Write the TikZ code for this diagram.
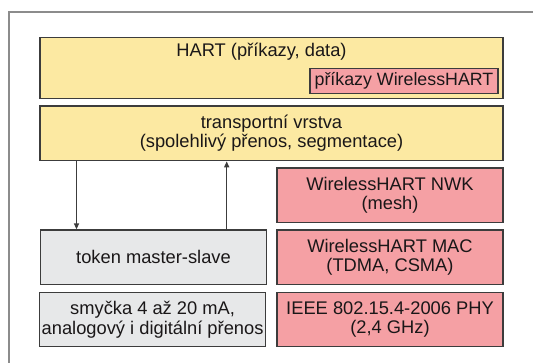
\documentclass[tikz,border=0pt]{standalone}
\usepackage{fontspec}
\setmainfont{Liberation Sans}
\usetikzlibrary{arrows.meta}
\definecolor{yel}{HTML}{FCE9A2}
\definecolor{pnk}{HTML}{F5A0A4}
\definecolor{gry}{HTML}{E7E8E9}
\definecolor{edge}{HTML}{3C3C3C}
\definecolor{txt}{HTML}{1A1718}
\definecolor{frm}{HTML}{8C8C8C}
\begin{document}
\begin{tikzpicture}[x=1pt,y=-1pt,
  box/.style={draw=edge,line width=1.4pt,inner sep=0pt,align=center,text=txt,
    font=\fontsize{18.3}{19.5}\selectfont},
  arr/.style={draw=edge,line width=1.4pt,-{Triangle[length=6pt,width=5pt]}}]
\useasboundingbox (0,0) rectangle (533,363);
\draw[frm,line width=1.4pt] (9,363) -- (9,12) -- (533,12);
% yellow boxes
\node[box,fill=yel,minimum width=463pt,minimum height=60.8pt] (hart) at (271.5,67.9) {};
\node[text=txt,font=\fontsize{18.3}{19.5}\selectfont,inner sep=0pt] (hartt) at (261.5,52) {HART (příkazy, data)};
\node[box,fill=pnk,line width=1.2pt,minimum width=188pt,minimum height=25pt,font=\fontsize{17.8}{19.5}\selectfont] (cmd) at (404,80.8) {příkazy WirelessHART};
\node[box,fill=yel,minimum width=463pt,minimum height=54.7pt] (trans) at (271.5,133.3)
  {transportní vrstva\\(spolehlivý přenos, segmentace)};
% pink stack
\node[box,fill=pnk,minimum width=226pt,minimum height=54.7pt] (nwk) at (390,195.3) {WirelessHART NWK\\(mesh)};
\node[box,fill=pnk,minimum width=226pt,minimum height=54.3pt] (mac) at (390,257.2) {WirelessHART MAC\\(TDMA, CSMA)};
\node[box,fill=pnk,minimum width=226pt,minimum height=54.4pt] (phy) at (390,319.5) {IEEE 802.15.4-2006 PHY\\(2,4 GHz)};
% grey stack
\node[box,fill=gry,minimum width=226pt,minimum height=54.3pt] (token) at (153.5,257.2) {token master-slave};
\node[box,fill=gry,minimum width=226pt,minimum height=54.4pt] (loop) at (152.6,319.5) {smyčka 4 až 20 mA,\\analogový i digitální přenos};
% arrows
\draw[arr] (trans.south -| 76.5,0) -- (token.north -| 76.5,0);
\draw[arr] (token.north -| 226.7,0) -- (trans.south -| 226.7,0);
\end{tikzpicture}
\end{document}
